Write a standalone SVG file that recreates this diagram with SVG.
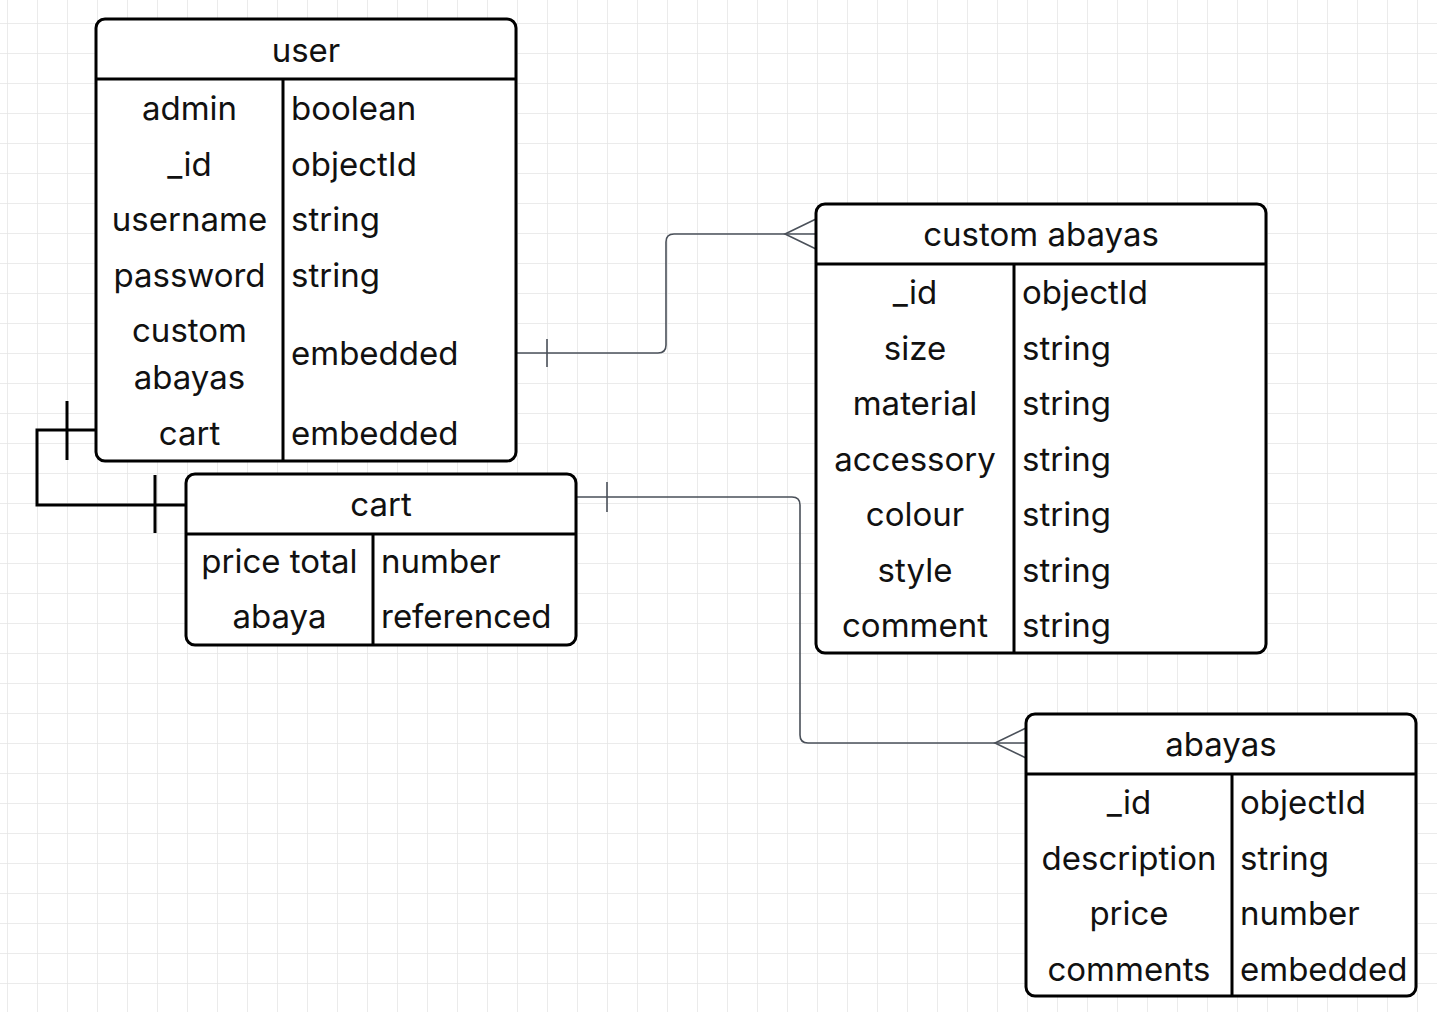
<svg xmlns="http://www.w3.org/2000/svg" width="1437" height="1012" viewBox="0 0 1437 1012">
<defs>
<pattern id="grid" x="7" y="23" width="30" height="30" patternUnits="userSpaceOnUse">
<path d="M0 0H30M0 0V30" fill="none" stroke="#e5e5e5" stroke-width="1.5"/>
</pattern>
</defs>
<style>
.box{fill:#fff;stroke:#000;stroke-width:3}
.ln{stroke:#000;stroke-width:3;fill:none}
text{font-family:Inter,"Noto Sans",sans-serif;font-size:33px;fill:#111}
.c{text-anchor:middle}
.conn{fill:none;stroke:#4a5059;stroke-width:1.6}
.thick{fill:none;stroke:#000;stroke-width:3}
</style>
<rect width="1437" height="1012" fill="#fff"/>
<rect width="1437" height="1012" fill="url(#grid)"/>

<g id="connectors">
<path class="conn" d="M516 353H658Q666 353 666 345V242Q666 234 674 234H816"/>
<path class="conn" d="M547 339V367"/>
<path class="conn" d="M816 219L785 234L816 249"/>
<path class="conn" d="M576 497H792Q800 497 800 505V735Q800 743 808 743H1026"/>
<path class="conn" d="M607 482V512"/>
<path class="conn" d="M1026 728L995 743L1026 758"/>
<path class="thick" d="M96 430H37V505H186"/>
<path class="thick" d="M67 401V460"/>
<path class="thick" d="M155 475V533"/>
</g>

<g id="user">
<rect class="box" x="96" y="19" width="420" height="442" rx="9"/>
<path class="ln" d="M96 79H516M283 79V461"/>
<text class="c" x="306" y="62">user</text>
<text class="c" x="189.5" y="120">admin</text>
<text class="c" x="189.5" y="176">_id</text>
<text class="c" x="189.5" y="231">username</text>
<text class="c" x="189.5" y="287">password</text>
<text class="c" x="189.5" y="342">custom</text>
<text class="c" x="189.5" y="389">abayas</text>
<text class="c" x="189.5" y="445">cart</text>
<text x="291" y="120">boolean</text>
<text x="291" y="176">objectId</text>
<text x="291" y="231">string</text>
<text x="291" y="287">string</text>
<text x="291" y="365">embedded</text>
<text x="291" y="445">embedded</text>
</g>

<g id="custom-abayas">
<rect class="box" x="816" y="204" width="450" height="449" rx="9"/>
<path class="ln" d="M816 264H1266M1014 264V653"/>
<text class="c" x="1041" y="246">custom abayas</text>
<text class="c" x="915" y="304">_id</text>
<text class="c" x="915" y="359.5">size</text>
<text class="c" x="915" y="415">material</text>
<text class="c" x="915" y="470.5">accessory</text>
<text class="c" x="915" y="526">colour</text>
<text class="c" x="915" y="581.5">style</text>
<text class="c" x="915" y="637">comment</text>
<text x="1022" y="304">objectId</text>
<text x="1022" y="359.5">string</text>
<text x="1022" y="415">string</text>
<text x="1022" y="470.5">string</text>
<text x="1022" y="526">string</text>
<text x="1022" y="581.5">string</text>
<text x="1022" y="637">string</text>
</g>

<g id="cart">
<rect class="box" x="186" y="474" width="390" height="171" rx="9"/>
<path class="ln" d="M186 534H576M373 534V645"/>
<text class="c" x="381" y="516">cart</text>
<text class="c" x="279.5" y="573">price total</text>
<text class="c" x="279.5" y="628">abaya</text>
<text x="381" y="573">number</text>
<text x="381" y="628">referenced</text>
</g>

<g id="abayas">
<rect class="box" x="1026" y="714" width="390" height="282" rx="9"/>
<path class="ln" d="M1026 774H1416M1232 774V996"/>
<text class="c" x="1221" y="756">abayas</text>
<text class="c" x="1129" y="814">_id</text>
<text class="c" x="1129" y="869.5">description</text>
<text class="c" x="1129" y="925">price</text>
<text class="c" x="1129" y="980.5">comments</text>
<text x="1240" y="814">objectId</text>
<text x="1240" y="869.5">string</text>
<text x="1240" y="925">number</text>
<text x="1240" y="980.5">embedded</text>
</g>
</svg>
